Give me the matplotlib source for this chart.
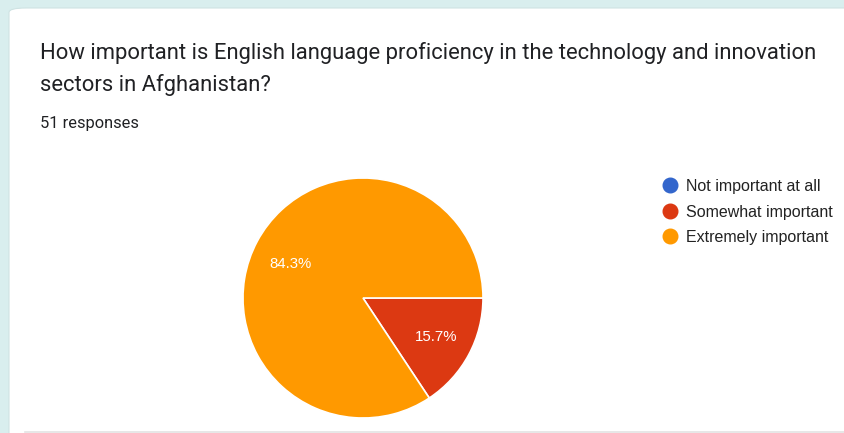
import matplotlib.pyplot as plt
from matplotlib.patches import FancyBboxPatch
from matplotlib.lines import Line2D

# survey answers
categories = ['Not important at all', 'Somewhat important', 'Extremely important']
counts = [0, 8, 43]
colors = ['#3366cc', '#dc3912', '#ff9900']
question = ('How important is English language proficiency in the technology and innovation\n'
            'sectors in Afghanistan?')
n_responses = sum(counts)

W, H = 845, 433
fig = plt.figure(figsize=(W / 100, H / 100), dpi=100)
fig.patch.set_facecolor('#d9eeee')


def px(x, y):
    # pixel coords (top-left origin) -> figure fraction
    return x / W, 1 - y / H


# white card behind everything
card = FancyBboxPatch(px(9, 460), (W + 20) / W, 452 / H,
                      boxstyle='round,pad=0,rounding_size=0.02',
                      transform=fig.transFigure, facecolor='white',
                      edgecolor='#cfe3e3', linewidth=0.8, mutation_aspect=H / W,
                      zorder=-2)
fig.add_artist(card)
fig.add_artist(Line2D([25 / W, 1], [1 - 432 / H] * 2, transform=fig.transFigure,
                      color='#e3e3e3', linewidth=1.2, zorder=-1))

fig.text(*px(40, 42), question, fontsize=15.8, family='Roboto', color='#202124',
         va='top', linespacing=1.6)
fig.text(*px(40, 116), f'{n_responses} responses', fontsize=11.8, family='Roboto',
         color='#202124', va='top')

# pie
cx, cy, r = 363, 298, 120
ax = fig.add_axes([(cx - r) / W, 1 - (cy + r) / H, 2 * r / W, 2 * r / H])
wedges, texts, autotexts = ax.pie(
    counts, colors=colors, startangle=0, counterclock=False,
    autopct=lambda p: f'{p:.1f}%' if p > 0 else '', pctdistance=0.69,
    wedgeprops=dict(edgecolor='white', linewidth=1.2),
    textprops=dict(color='white', fontsize=10.8, family='Liberation Sans'))
autotexts[2].set_y(autotexts[2].get_position()[1] - 0.04)
ax.set_xlim(-1, 1)
ax.set_ylim(-1, 1)
ax.set_aspect('equal')
ax.axis('off')

handles = [Line2D([], [], marker='o', linestyle='', markersize=10.5,
                  markerfacecolor=c, markeredgecolor=c) for c in colors]
fig.legend(handles, categories, loc='upper left', bbox_to_anchor=px(652, 171),
           frameon=False, handletextpad=0.4, labelspacing=0.66, borderpad=0,
           handlelength=1.2, prop=dict(family='Liberation Sans', size=11.5),
           labelcolor='#222222')

fig.savefig('out.png', dpi=100)
